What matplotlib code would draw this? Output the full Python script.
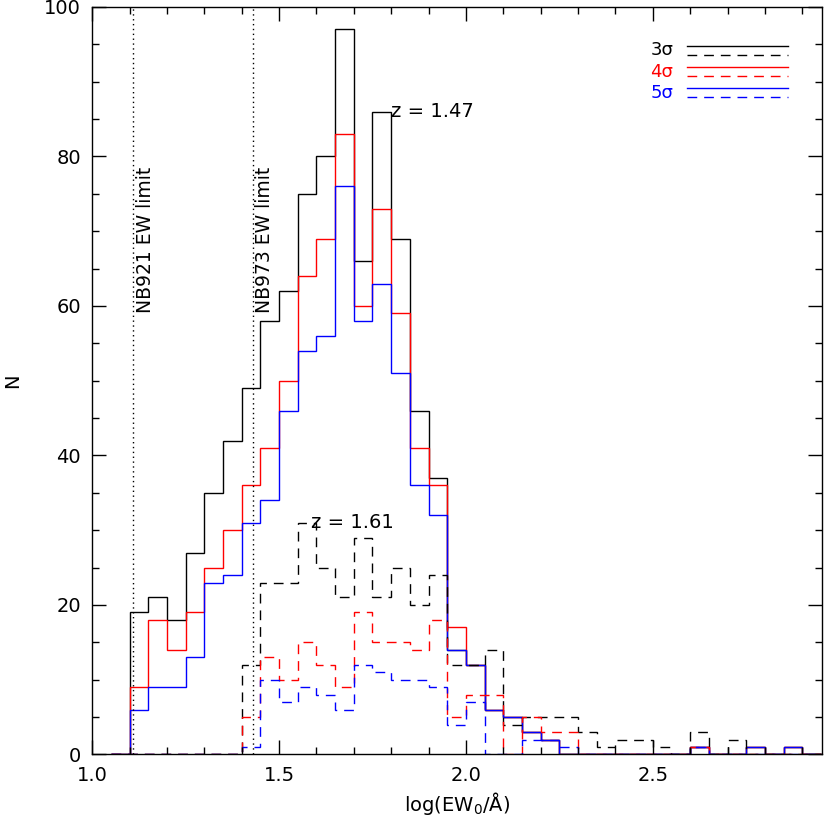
import numpy as np
import matplotlib
matplotlib.use("Agg")
import matplotlib.pyplot as plt
from matplotlib.ticker import MultipleLocator

# histogram bins: left edge of first bin and bin width, log(EW0/A)
bin_start = 1.05
bin_width = 0.05

# z = 1.47 (solid)
n3_147 = [0, 19, 21, 18, 27, 35, 42, 49, 58, 62, 75, 80, 97, 66, 86, 69, 46, 37, 14, 12,
          6, 5, 3, 2, 0, 0, 0, 0, 0, 0, 0, 1, 0, 0, 1, 0, 1, 0]
n4_147 = [0, 9, 18, 14, 19, 25, 30, 36, 41, 50, 64, 69, 83, 60, 73, 59, 41, 36, 17, 12,
          6, 5, 3, 2, 0, 0, 0, 0, 0, 0, 0, 1, 0, 0, 1, 0, 1, 0]
n5_147 = [0, 6, 9, 9, 13, 23, 24, 31, 34, 46, 54, 56, 76, 58, 63, 51, 36, 32, 14, 12,
          6, 5, 3, 2, 0, 0, 0, 0, 0, 0, 0, 1, 0, 0, 1, 0, 1, 0]

# z = 1.61 (dashed)
n3_161 = [0, 0, 0, 0, 0, 0, 0, 12, 23, 23, 31, 25, 21, 29, 21, 25, 20, 24, 12, 12,
          14, 4, 5, 5, 5, 3, 1, 2, 2, 1, 0, 3, 0, 2, 0, 0, 0, 0]
n4_161 = [0, 0, 0, 0, 0, 0, 0, 5, 13, 10, 15, 12, 9, 19, 15, 15, 14, 18, 5, 8,
          8, 0, 5, 3, 3, 0, 0, 0, 0, 0, 0, 1, 0, 0, 0, 0, 0, 0]
n5_161 = [0, 0, 0, 0, 0, 0, 0, 1, 10, 7, 9, 8, 6, 12, 11, 10, 10, 9, 4, 7,
          0, 0, 2, 2, 1, 0, 0, 0, 0, 0, 0, 1, 0, 0, 0, 0, 0, 0]

limits_x = [1.11, 1.43]
limits_lab = ["NB921 EW limit", "NB973 EW limit"]

plt.rcParams['font.family'] = ['DejaVu Sans']
fig = plt.figure(figsize=(8.3, 8.3), dpi=100)
ax = fig.add_axes([0.111, 0.091, 0.879, 0.9006])

edges = bin_start + bin_width * np.arange(len(n3_147) + 1)
dash = (0, (7, 5))
for vals, c in [(n3_147, 'black'), (n4_147, 'red'), (n5_147, 'blue')]:
    ax.stairs(vals, edges, color=c, lw=1.0, baseline=None)
for vals, c in [(n3_161, 'black'), (n4_161, 'red'), (n5_161, 'blue')]:
    ax.stairs(vals, edges, color=c, lw=1.0, ls=dash, baseline=None)

for xv, lab in zip(limits_x, limits_lab):
    ax.axvline(xv, color='black', lw=1.0, ls=(0, (1, 2.5)))
    ax.text(xv + 0.007, 59, lab, rotation=90, fontsize=13.5, ha='left', va='bottom')

ax.text(1.80, 86, "z = 1.47", fontsize=14, ha='left', va='center')
ax.text(1.585, 31, "z = 1.61", fontsize=14, ha='left', va='center')

# legend drawn by hand, IDL style
leg = [("3σ", 'black'), ("4σ", 'red'), ("5σ", 'blue')]
for k, (lab, c) in enumerate(leg):
    y0 = 0.948 - k * 0.0285
    ax.text(0.765, y0 - 0.006, lab, color=c, fontsize=13, ha='left', va='center',
            transform=ax.transAxes)
    ax.plot([0.815, 0.954], [y0, y0], color=c, lw=1.0, transform=ax.transAxes)
    ax.plot([0.815, 0.954], [y0 - 0.012, y0 - 0.012], color=c, lw=1.0, ls=dash,
            transform=ax.transAxes)

ax.set_xlim(1.0, 2.952)
ax.set_ylim(0, 100)
ax.xaxis.set_major_locator(MultipleLocator(0.5))
ax.xaxis.set_minor_locator(MultipleLocator(0.1))
ax.yaxis.set_major_locator(MultipleLocator(20))
ax.yaxis.set_minor_locator(MultipleLocator(5))
ax.xaxis.set_major_formatter(matplotlib.ticker.FormatStrFormatter('%.1f'))
ax.tick_params(which='both', direction='in', top=True, right=True, labelsize=14, width=1.0)
ax.tick_params(which='major', length=10, pad=8)
ax.tick_params(which='minor', length=5)
for s in ax.spines.values():
    s.set_linewidth(1.0)

ax.set_xlabel(r"log(EW$_0$/Å)", fontsize=14, labelpad=4)
ax.set_ylabel("N", fontsize=14, labelpad=16)

fig.savefig("out.png", dpi=100)
